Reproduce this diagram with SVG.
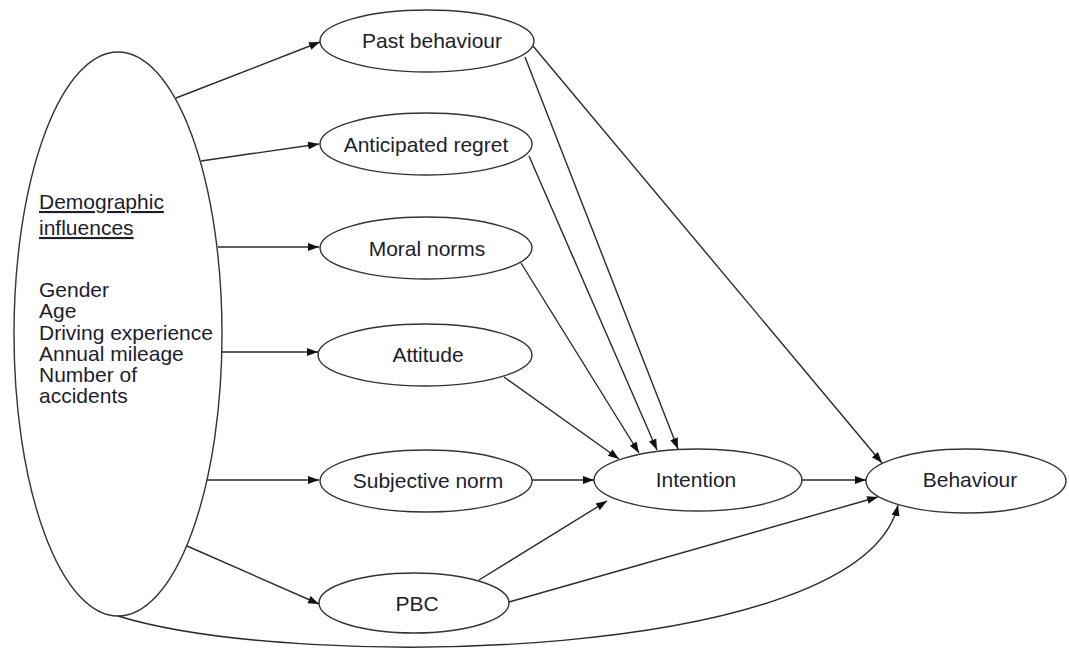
<svg xmlns="http://www.w3.org/2000/svg" width="1069" height="650" viewBox="0 0 1069 650">
<style>
.node{fill:#fff;stroke:#333;stroke-width:1.4}
.lbl{font-family:"Liberation Sans",Arial,sans-serif;font-size:21px;fill:#1d1d2b}
.mid{text-anchor:middle}
.edge{fill:none;stroke:#2a2a2a;stroke-width:1.4;marker-end:url(#ah)}
</style>
<defs>
<marker id="ah" markerUnits="userSpaceOnUse" markerWidth="12" markerHeight="9" refX="11" refY="4" orient="auto">
<path d="M0,0 L11,4 L0,8 z" fill="#111"/>
</marker>
</defs>
<rect width="1069" height="650" fill="#fff"/>
<g id="demographics">
<ellipse class="node" cx="118" cy="334" rx="104" ry="282"/>
<text class="lbl" x="39" y="209" text-decoration="underline">Demographic</text>
<text class="lbl" x="39" y="235" text-decoration="underline">influences</text>
<text class="lbl" x="39" y="297">Gender</text>
<text class="lbl" x="39" y="318">Age</text>
<text class="lbl" x="39" y="340">Driving experience</text>
<text class="lbl" x="39" y="361">Annual mileage</text>
<text class="lbl" x="39" y="382">Number of</text>
<text class="lbl" x="39" y="403">accidents</text>
</g>
<g id="past-behaviour">
<ellipse class="node" cx="427" cy="41" rx="107" ry="31"/>
<text class="lbl mid" x="432" y="48">Past behaviour</text>
</g>
<g id="anticipated-regret">
<ellipse class="node" cx="426" cy="144" rx="106" ry="31"/>
<text class="lbl mid" x="426" y="152">Anticipated regret</text>
</g>
<g id="moral-norms">
<ellipse class="node" cx="426" cy="248" rx="106" ry="31"/>
<text class="lbl mid" x="427" y="256">Moral norms</text>
</g>
<g id="attitude">
<ellipse class="node" cx="425" cy="355" rx="107" ry="31"/>
<text class="lbl mid" x="428" y="362">Attitude</text>
</g>
<g id="subjective-norm">
<ellipse class="node" cx="426" cy="481" rx="106" ry="31"/>
<text class="lbl mid" x="428" y="488">Subjective norm</text>
</g>
<g id="pbc">
<ellipse class="node" cx="414" cy="603" rx="95" ry="30"/>
<text class="lbl mid" x="417" y="611">PBC</text>
</g>
<g id="intention">
<ellipse class="node" cx="698" cy="480" rx="104" ry="31"/>
<text class="lbl mid" x="696" y="487">Intention</text>
</g>
<g id="behaviour">
<ellipse class="node" cx="966" cy="481" rx="100" ry="32"/>
<text class="lbl mid" x="970" y="487">Behaviour</text>
</g>
<g id="connectors">
<path class="edge" d="M176,98 L320,42"/>
<path class="edge" d="M201,161 L319,144"/>
<path class="edge" d="M218,247 L319,247"/>
<path class="edge" d="M221,352 L318,352"/>
<path class="edge" d="M207,480 L319,480"/>
<path class="edge" d="M187,546 L319,604"/>
<path class="edge" d="M525,57 L678,449"/>
<path class="edge" d="M533,46 L882,463"/>
<path class="edge" d="M529,156 L657,450"/>
<path class="edge" d="M521,263 L639,453"/>
<path class="edge" d="M504,377 L619,459"/>
<path class="edge" d="M532,480 L594,480"/>
<path class="edge" d="M802,480 L866,480"/>
<path class="edge" d="M479,580 L607,501"/>
<path class="edge" d="M509,602 L878,497"/>
<path class="edge" d="M118,616 C300,672 862,662 898,505"/>
</g>
</svg>
